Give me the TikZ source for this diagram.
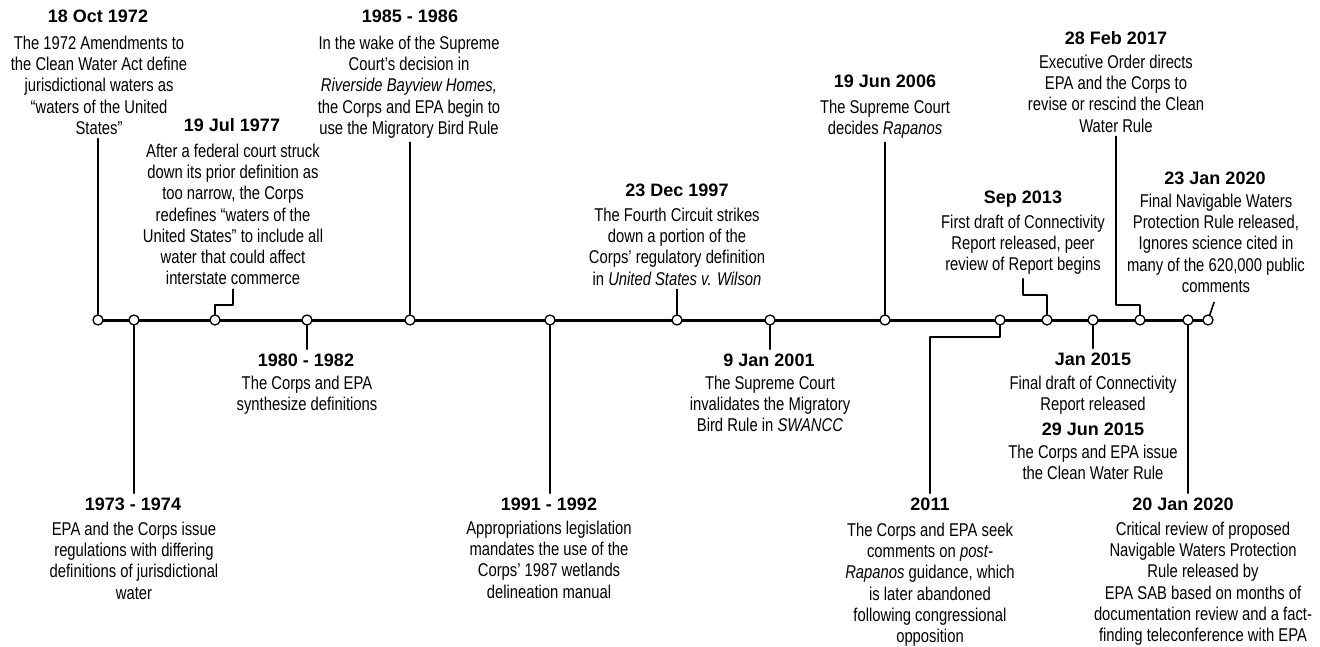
\documentclass[tikz,border=0pt]{standalone}
\usepackage{fontspec}
\setmainfont{Liberation Sans}[FakeStretch=0.8]
\newfontfamily\datefont{Liberation Sans}
\usepackage{tikz}

\begin{document}
\begin{tikzpicture}[line cap=round,line join=round,x=1pt,y=-1pt,
  evdot/.style={circle,draw,fill=white,line width=1.3pt,inner sep=0pt,minimum size=10pt},
  evline/.style={line width=1.6pt},
  datelbl/.style={anchor=base,inner sep=4pt,font=\datefont\bfseries\fontsize{18}{20}\selectfont},
  bodylbl/.style={anchor=north,inner sep=4pt,align=center,font=\fontsize{18.5}{21.3}\selectfont}]
\useasboundingbox (0,0) rectangle (1320,647);
\draw [line width=3pt] (98,320) -- (1208,320);
\node[evdot] (c1972) at (98,320) {};
\node[evdot] (c1973) at (134,320) {};
\node[evdot] (c1977) at (215,320) {};
\node[evdot] (c1980) at (307,320) {};
\node[evdot] (c1985) at (410,320) {};
\node[evdot] (c1991) at (550,320) {};
\node[evdot] (c1997) at (677,320) {};
\node[evdot] (c2001) at (770,320) {};
\node[evdot] (c2006) at (885,320) {};
\node[evdot] (c2011) at (1000,320) {};
\node[evdot] (c2013) at (1047,320) {};
\node[evdot] (c2015) at (1093,320) {};
\node[evdot] (c2017) at (1140,320) {};
\node[evdot] (c2020a) at (1188,320) {};
\node[evdot] (c2020b) at (1208,320) {};
% above the line
\node[datelbl] (d1972) at (98,23) {18 Oct 1972};
\node[bodylbl] (b1972) at (99,31.5) {The 1972 Amendments to\\the Clean Water Act define\\jurisdictional waters as\\“waters of the United\\States”};
\node[datelbl] (d1977) at (232,132) {19 Jul 1977};
\node[bodylbl] (b1977) at (233,139.5) {After a federal court struck\\down its prior definition as\\too narrow, the Corps\\redefines “waters of the\\United States” to include all\\water that could affect\\interstate commerce};
\node[datelbl] (d1985) at (410,23) {1985 - 1986};
\node[bodylbl] (b1985) at (409,31.5) {In the wake of the Supreme\\Court's decision in\\\textit{Riverside Bayview Homes,}\\the Corps and EPA begin to\\use the Migratory Bird Rule};
\node[datelbl] (d1997) at (677,197) {23 Dec 1997};
\node[bodylbl] (b1997) at (677,203.5) {The Fourth Circuit strikes\\down a portion of the\\Corps' regulatory definition\\in \textit{United States v. Wilson}};
\node[datelbl] (d2006) at (885,88) {19 Jun 2006};
\node[bodylbl] (b2006) at (885,95.5) {The Supreme Court\\decides \textit{Rapanos}};
\node[datelbl] (d2013) at (1023,204) {Sep 2013};
\node[bodylbl] (b2013) at (1023,210.5) {First draft of Connectivity\\Report released, peer\\review of Report begins};
\node[datelbl] (d2017) at (1116,45) {28 Feb 2017};
\node[bodylbl] (b2017) at (1116,50.5) {Executive Order directs\\EPA and the Corps to\\revise or rescind the Clean\\Water Rule};
\node[datelbl] (d2020b) at (1215,185) {23 Jan 2020};
\node[bodylbl] (b2020b) at (1216,189.5) {Final Navigable Waters\\Protection Rule released,\\Ignores science cited in\\many of the 620,000 public\\comments};
% below the line
\node[datelbl] (d1973) at (133,510) {1973 - 1974};
\node[bodylbl] (b1973) at (134,517.5) {EPA and the Corps issue\\regulations with differing\\definitions of jurisdictional\\water};
\node[datelbl] (d1980) at (306,366) {1980 - 1982};
\node[bodylbl] (b1980) at (307,371.5) {The Corps and EPA\\synthesize definitions};
\node[datelbl] (d1991) at (549,510) {1991 - 1992};
\node[bodylbl] (b1991) at (549,516.5) {Appropriations legislation\\mandates the use of the\\Corps' 1987 wetlands\\delineation manual};
\node[datelbl] (d2001) at (769,366) {9 Jan 2001};
\node[bodylbl] (b2001) at (770,371.5) {The Supreme Court\\invalidates the Migratory\\Bird Rule in \textit{SWANCC}};
\node[datelbl] (d2011) at (930,510) {2011};
\node[bodylbl] (b2011) at (930,518.5) {The Corps and EPA seek\\comments on \textit{post-}\\\textit{Rapanos} guidance, which\\is later abandoned\\following congressional\\opposition};
\node[datelbl] (d2015a) at (1093,365) {Jan 2015};
\node[bodylbl] (b2015a) at (1093,371.5) {Final draft of Connectivity\\Report released};
\node[datelbl] (d2015b) at (1093,435) {29 Jun 2015};
\node[bodylbl] (b2015b) at (1093,440.5) {The Corps and EPA issue\\the Clean Water Rule};
\node[datelbl] (d2020a) at (1183,510) {20 Jan 2020};
\node[bodylbl] (b2020a) at (1203,517.5) {Critical review of proposed\\Navigable Waters Protection\\Rule released by\\EPA SAB based on months of\\documentation review and a fact-\\finding teleconference with EPA};
% stems
\draw [evline] (c1972) -- (c1972 |- b1972.south);
\draw [evline] (c1977) -- ++(0,-15) -| (b1977.south);
\draw [evline] (c1985) -- (c1985 |- b1985.south);
\draw [evline] (c1997) -- (c1997 |- b1997.south);
\draw [evline] (c2006) -- (c2006 |- b2006.south);
\draw [evline] (c2013) -- ++(0,-25) -| (b2013.south);
\draw [evline] (c2017) -- ++(0,-15) -| (b2017.south);
\draw [evline,shorten >=6pt] (c2020b) -- (b2020b.south);
\draw [evline] (c1973) -- (c1973 |- d1973.north);
\draw [evline] (c1980) -- (c1980 |- d1980.north);
\draw [evline] (c1991) -- (c1991 |- d1991.north);
\draw [evline] (c2001) -- (c2001 |- d2001.north);
\draw [evline] (c2011) -- ++(0,17) -| (d2011.north);
\draw [evline] (c2015) -- (c2015 |- d2015a.north);
\draw [evline] (c2020a) -- (c2020a |- d2020a.north);
\end{tikzpicture}
\end{document}
